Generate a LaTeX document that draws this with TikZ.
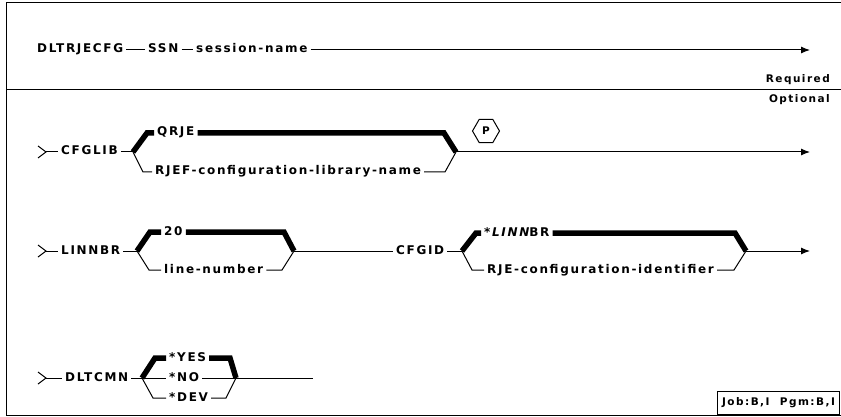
\documentclass[tikz,border=0pt]{standalone}
\usepackage{fontspec}
\newfontfamily\railfont[LetterSpace=14]{DejaVu Sans}
\usetikzlibrary{arrows.meta,shapes.geometric}

\tikzset{
  kw/.style={font=\railfont\bfseries\fontsize{12}{14}\selectfont, inner sep=3pt,
    text height=8.5pt, text depth=2.5pt, anchor=west},
  tag/.style={font=\railfont\bfseries\fontsize{10.5}{12}\selectfont, inner sep=2pt},
  rail/.style={line width=1pt},
  dfltrail/.style={line width=5.5pt},
  railend/.style={rail, -{Latex[length=9pt,width=7pt]}},
}

\begin{document}
\begin{tikzpicture}[x=1pt, y=-1pt]
  \useasboundingbox (0,0) rectangle (841,417);

  % Cornice e separazione obbligatorio / facoltativo
  \draw[line width=1pt] (841,3) -- (6,3) -- (6,415) -- (841,415);
  \draw[line width=1pt] (6,90) -- (841,90);
  \node[tag, anchor=east] (required) at (832,80) {Required};
  \node[tag, anchor=east] (optional) at (832,100) {Optional};

  % Parametri obbligatori
  \node[kw] (dltrjecfg) at (34,50) {DLTRJECFG};
  \node[kw] (ssn) at (145,50) {SSN};
  \node[kw] (sesname) at (193,50) {session-name};
  \coordinate (end1) at (810,50);
  \draw[rail] (dltrjecfg) -- (ssn);
  \draw[rail] (ssn) -- (sesname);
  \draw[railend] (sesname) -- (end1);

  % CFGLIB
  \coordinate (in1) at (46,152);
  \coordinate (v1a) at (133,152);
  \coordinate (v1b) at (456,152);
  \coordinate (end2) at (810,152);
  \node[kw] (cfglib) at (58,152) {CFGLIB};
  \node[kw] (qrje) at (154,133) {QRJE};
  \node[kw] (rjef) at (152,172) {RJEF-configuration-library-name};
  \draw[rail] (38,146) -- (in1) -- (38,158);
  \draw[rail] (in1) -- (cfglib);
  \draw[rail] (cfglib) -- (v1a);
  \draw[dfltrail] (v1a) -- (147,133) -- (qrje);
  \draw[dfltrail] (qrje) -- (444,133) -- (v1b);
  \draw[rail] (v1a) -- (143,172) -- (rjef);
  \draw[rail] (rjef) -- (445,172) -- (v1b);
  \draw[railend] (v1b) -- (end2);
  \node[draw, regular polygon, regular polygon sides=6, minimum size=27pt,
    inner sep=0pt, line width=1pt, tag] (pgroup) at (486,131) {P};

  % LINNBR e CFGID
  \coordinate (in2) at (46,251);
  \coordinate (v2a) at (137,251);
  \coordinate (v2b) at (294,251);
  \coordinate (v3a) at (462,251);
  \coordinate (v3b) at (746,251);
  \coordinate (end3) at (810,251);
  \node[kw] (linnbr) at (58,251) {LINNBR};
  \node[kw] (twenty) at (161,232) {20};
  \node[kw] (linenum) at (161,270) {line-number};
  \node[kw] (cfgid) at (393,251) {CFGID};
  \node[kw] (dfltlin) at (481,233) {{\itshape *LINN}BR};
  \node[kw] (rjeid) at (484,270) {RJE-configuration-identifier};
  \draw[rail] (38,245) -- (in2) -- (38,257);
  \draw[rail] (in2) -- (linnbr);
  \draw[rail] (linnbr) -- (v2a);
  \draw[dfltrail] (v2a) -- (150,232) -- (twenty);
  \draw[dfltrail] (twenty) -- (284,232) -- (v2b);
  \draw[rail] (v2a) -- (149,270) -- (linenum);
  \draw[rail] (linenum) -- (282,270) -- (v2b);
  \draw[rail] (v2b) -- (cfgid);
  \draw[rail] (cfgid) -- (v3a);
  \draw[dfltrail] (v3a) -- (476,233) -- (dfltlin);
  \draw[dfltrail] (dfltlin) -- (735,233) -- (v3b);
  \draw[rail] (v3a) -- (472,270) -- (rjeid);
  \draw[rail] (rjeid) -- (734,270) -- (v3b);
  \draw[railend] (v3b) -- (end3);

  % DLTCMN
  \coordinate (in3) at (46,378);
  \coordinate (v4a) at (142,378);
  \coordinate (v4b) at (236,378);
  \coordinate (end4) at (313,378);
  \node[kw] (dltcmn) at (62,378) {DLTCMN};
  \node[kw] (yes) at (166,358) {*YES};
  \node[kw] (no) at (166,378) {*NO};
  \node[kw] (dev) at (166,398) {*DEV};
  \draw[rail] (38,372) -- (in3) -- (38,384);
  \draw[rail] (in3) -- (dltcmn);
  \draw[rail] (dltcmn) -- (v4a);
  \draw[dfltrail] (v4a) -- (155,358) -- (yes);
  \draw[dfltrail] (yes) -- (230,358) -- (v4b);
  \draw[rail] (v4a) -- (no);
  \draw[rail] (no) -- (v4b);
  \draw[rail] (v4a) -- (153,398) -- (dev);
  \draw[rail] (dev) -- (226,398) -- (v4b);
  \draw[rail] (v4b) -- (end4);

  % Ambiente
  \node[draw, line width=1pt, tag, minimum width=122pt, minimum height=23pt,
    anchor=south east] (jobenv) at (840,415) {Job:B,I\ \ Pgm:B,I};
\end{tikzpicture}
\end{document}
